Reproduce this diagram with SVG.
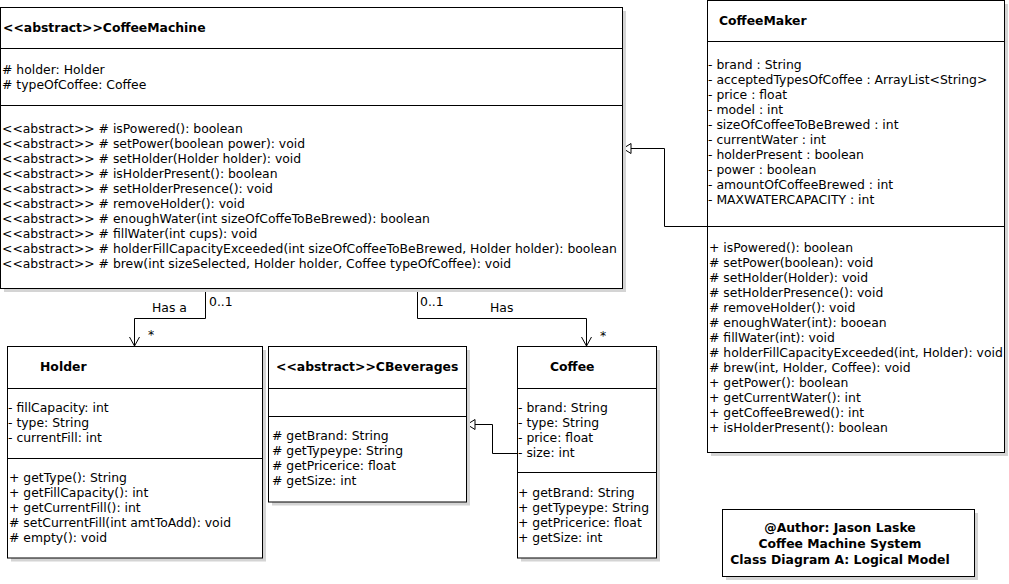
<svg xmlns="http://www.w3.org/2000/svg" width="1009" height="584" viewBox="0 0 1009 584">
<style>
.box{fill:#fff;stroke:#000;stroke-width:1}
.sh{fill:#d4d4d4}
.div{stroke:#000;stroke-width:1}
text{font-family:"DejaVu Sans","Noto Sans",sans-serif;font-size:12.4px;fill:#000}
.b{font-weight:bold}
.c{text-anchor:middle}
.ln{fill:none;stroke:#000;stroke-width:1}
</style>
<defs>
<marker id="open" markerWidth="12" markerHeight="12" refX="10" refY="6" orient="auto" markerUnits="userSpaceOnUse">
<path d="M1,1 L10,6 L1,11" fill="none" stroke="#000" stroke-width="1"/>
</marker>
<marker id="tri" markerWidth="12" markerHeight="12" refX="10" refY="6" orient="auto" markerUnits="userSpaceOnUse">
<path d="M2,1 L10,6 L2,11 Z" fill="#fff" stroke="#000" stroke-width="1"/>
</marker>
</defs>
<rect width="1009" height="584" fill="#fff"/>

<g id="connectors">
<polyline class="ln" points="205.5,289 205.5,318.5 134.5,318.5 134.5,346" marker-end="url(#open)"/>
<text x="152" y="312">Has a</text>
<text x="209" y="305.5">0..1</text>
<text x="148" y="339">*</text>
<polyline class="ln" points="417.5,289 417.5,318.5 586.5,318.5 586.5,346" marker-end="url(#open)"/>
<text x="490" y="311.5">Has</text>
<text x="420" y="305.5">0..1</text>
<text x="600" y="340">*</text>
<polyline class="ln" points="707,226.5 664.5,226.5 664.5,148.5 623,148.5" marker-end="url(#tri)"/>
<polyline class="ln" points="517,453.5 492.5,453.5 492.5,424.5 467,424.5" marker-end="url(#tri)"/>
</g>

<g id="CoffeeMachine">
<rect class="sh" x="4" y="11" width="622" height="281"/>
<rect class="box" x="0.5" y="7.5" width="622" height="281"/>
<line class="div" x1="0.5" y1="48.5" x2="622.5" y2="48.5"/>
<line class="div" x1="0.5" y1="105.5" x2="622.5" y2="105.5"/>
<text class="b" x="3" y="32">&lt;&lt;abstract&gt;&gt;CoffeeMachine</text>
<text x="2" y="74"># holder: Holder</text>
<text x="2" y="89"># typeOfCoffee: Coffee</text>
<text x="2" y="133">&lt;&lt;abstract&gt;&gt; # isPowered(): boolean</text>
<text x="2" y="148">&lt;&lt;abstract&gt;&gt; # setPower(boolean power): void</text>
<text x="2" y="163">&lt;&lt;abstract&gt;&gt; # setHolder(Holder holder): void</text>
<text x="2" y="178">&lt;&lt;abstract&gt;&gt; # isHolderPresent(): boolean</text>
<text x="2" y="193">&lt;&lt;abstract&gt;&gt; # setHolderPresence(): void</text>
<text x="2" y="208">&lt;&lt;abstract&gt;&gt; # removeHolder(): void</text>
<text x="2" y="223">&lt;&lt;abstract&gt;&gt; # enoughWater(int sizeOfCoffeToBeBrewed): boolean</text>
<text x="2" y="238">&lt;&lt;abstract&gt;&gt; # fillWater(int cups): void</text>
<text x="2" y="253">&lt;&lt;abstract&gt;&gt; # holderFillCapacityExceeded(int sizeOfCoffeeToBeBrewed, Holder holder): boolean</text>
<text x="2" y="268">&lt;&lt;abstract&gt;&gt; # brew(int sizeSelected, Holder holder, Coffee typeOfCoffee): void</text>
</g>

<g id="CoffeeMaker">
<rect class="sh" x="711" y="4" width="297" height="452"/>
<rect class="box" x="707.5" y="0.5" width="297" height="452"/>
<line class="div" x1="707.5" y1="41.5" x2="1004.5" y2="41.5"/>
<line class="div" x1="707.5" y1="226.5" x2="1004.5" y2="226.5"/>
<text class="b" x="719" y="25">CoffeeMaker</text>
<text x="708" y="69">- brand : String</text>
<text x="708" y="84">- acceptedTypesOfCoffee : ArrayList&lt;String&gt;</text>
<text x="708" y="99">- price : float</text>
<text x="708" y="114">- model : int</text>
<text x="708" y="129">- sizeOfCoffeeToBeBrewed : int</text>
<text x="708" y="144">- currentWater : int</text>
<text x="708" y="159">- holderPresent : boolean</text>
<text x="708" y="174">- power : boolean</text>
<text x="708" y="189">- amountOfCoffeeBrewed : int</text>
<text x="708" y="204">- MAXWATERCAPACITY : int</text>
<text x="709" y="252">+ isPowered(): boolean</text>
<text x="709" y="267"># setPower(boolean): void</text>
<text x="709" y="282"># setHolder(Holder): void</text>
<text x="709" y="297"># setHolderPresence(): void</text>
<text x="709" y="312"># removeHolder(): void</text>
<text x="709" y="327"># enoughWater(int): booean</text>
<text x="709" y="342"># fillWater(int): void</text>
<text x="709" y="357"># holderFillCapacityExceeded(int, Holder): void</text>
<text x="709" y="372"># brew(int, Holder, Coffee): void</text>
<text x="709" y="387">+ getPower(): boolean</text>
<text x="709" y="402">+ getCurrentWater(): int</text>
<text x="709" y="417">+ getCoffeeBrewed(): int</text>
<text x="709" y="432">+ isHolderPresent(): boolean</text>
</g>

<g id="Holder">
<rect class="sh" x="11" y="350" width="255" height="211.5"/>
<rect class="box" x="7.5" y="346.5" width="255" height="211.5"/>
<line class="div" x1="7.5" y1="388.5" x2="262.5" y2="388.5"/>
<line class="div" x1="7.5" y1="458.5" x2="262.5" y2="458.5"/>
<text class="b" x="40" y="371">Holder</text>
<text x="8" y="412">- fillCapacity: int</text>
<text x="8" y="427">- type: String</text>
<text x="8" y="442">- currentFill: int</text>
<text x="9" y="482">+ getType(): String</text>
<text x="9" y="497">+ getFillCapacity(): int</text>
<text x="9" y="512">+ getCurrentFill(): int</text>
<text x="9" y="527"># setCurrentFill(int amtToAdd): void</text>
<text x="9" y="542"># empty(): void</text>
</g>

<g id="CBeverages">
<rect class="sh" x="272" y="350" width="198" height="155.5"/>
<rect class="box" x="268.5" y="346.5" width="198" height="155.5"/>
<line class="div" x1="268.5" y1="388.5" x2="466.5" y2="388.5"/>
<line class="div" x1="268.5" y1="416.5" x2="466.5" y2="416.5"/>
<text class="b" x="276" y="371">&lt;&lt;abstract&gt;&gt;CBeverages</text>
<text x="272" y="440"># getBrand: String</text>
<text x="272" y="455"># getTypeype: String</text>
<text x="272" y="470"># getPricerice: float</text>
<text x="272" y="485"># getSize: int</text>
</g>

<g id="Coffee">
<rect class="sh" x="521" y="350" width="139" height="211.5"/>
<rect class="box" x="517.5" y="346.5" width="139" height="211.5"/>
<line class="div" x1="517.5" y1="388.5" x2="656.5" y2="388.5"/>
<line class="div" x1="517.5" y1="472.5" x2="656.5" y2="472.5"/>
<text class="b" x="550" y="371">Coffee</text>
<text x="518" y="412">- brand: String</text>
<text x="518" y="427">- type: String</text>
<text x="518" y="442">- price: float</text>
<text x="518" y="457">- size: int</text>
<text x="518" y="497">+ getBrand: String</text>
<text x="518" y="512">+ getTypeype: String</text>
<text x="518" y="527">+ getPricerice: float</text>
<text x="518" y="542">+ getSize: int</text>
</g>

<g id="Note">
<rect class="sh" x="726" y="513" width="252" height="67"/>
<rect class="box" x="722.5" y="509.5" width="252" height="67"/>
<text class="b c" x="840" y="532">@Author: Jason Laske</text>
<text class="b c" x="840" y="548">Coffee Machine System</text>
<text class="b c" x="840" y="564">Class Diagram A: Logical Model</text>
</g>
</svg>
